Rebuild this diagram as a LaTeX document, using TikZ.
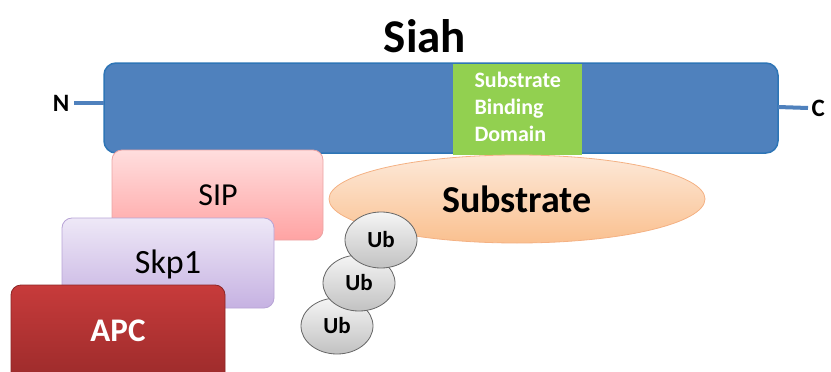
\documentclass[tikz,border=0pt]{standalone}
\usepackage{fontspec}
\setmainfont{Carlito}
\usetikzlibrary{shapes.geometric}
\definecolor{barblue}{HTML}{4F81BD}
\definecolor{barline}{HTML}{2E75B6}
\definecolor{domgreen}{HTML}{92D050}
\definecolor{siptop}{HTML}{FFDEDE}
\definecolor{sipbot}{HTML}{FFA3A3}
\definecolor{sipline}{HTML}{EBA3A3}
\definecolor{skptop}{HTML}{EEE8F7}
\definecolor{skpbot}{HTML}{C6B2E2}
\definecolor{skpline}{HTML}{B8A4D6}
\definecolor{apctop}{HTML}{C73B3B}
\definecolor{apcbot}{HTML}{9A2A2A}
\definecolor{apcline}{HTML}{8C2626}
\definecolor{subtop}{HTML}{FDE9D9}
\definecolor{subbot}{HTML}{FAC08F}
\definecolor{subline}{HTML}{F4B183}
\tikzset{
  block/.style={rounded corners=10pt, line width=0.8pt},
  ubshape/.style={ellipse, draw=black!60, line width=0.8pt, top color=black!4, bottom color=black!24, minimum width=72pt, minimum height=56pt, inner sep=0pt, font=\bfseries\fontsize{23}{23}\selectfont},
  labeltext/.style={font=\fontsize{#1}{#1}\selectfont},
}
\begin{document}
\begin{tikzpicture}[x=1pt,y=-1pt]
\useasboundingbox (0,0) rectangle (831,372);
% title
\node[font=\bfseries\fontsize{47}{47}\selectfont] (title) at (425,36) {Siah};
% protein bar with N and C termini
\draw[block, draw=barline, fill=barblue, line width=1.5pt, rounded corners=12pt] (104,63) rectangle (778,153);
\coordinate (barW) at (104,103);
\coordinate (barE) at (778,107);
\node[font=\bfseries\fontsize{25}{25}\selectfont, anchor=east] (N) at (73,103) {N};
\node[font=\bfseries\fontsize{25}{25}\selectfont, anchor=west] (C) at (808,108) {C};
\draw[barblue, line width=4pt] (N.east) ++(1pt,0) -- (barW);
\draw[barblue, line width=4pt] (barE) -- (C.west);
% substrate binding domain
\fill[domgreen] (453,64) rectangle (582,155);
\node[text=white, font=\bfseries\fontsize{22}{27}\selectfont, align=left, anchor=west] (sbd) at (471,107) {Substrate\\Binding\\Domain};
% substrate
\node[ellipse, draw=subline, line width=0.8pt, top color=subtop, bottom color=subbot, minimum width=376pt, minimum height=88pt, font=\bfseries\fontsize{38}{38}\selectfont] (sub) at (517,199) {Substrate};
% complex partners
\draw[block, draw=sipline, top color=siptop, bottom color=sipbot] (112,150) rectangle (323,240);
\node[labeltext=32] (sip) at (218,195) {SIP};
\draw[block, draw=skpline, top color=skptop, bottom color=skpbot] (62,218) rectangle (274,308);
\node[labeltext=34] (skp) at (168,264) {Skp1};
\draw[block, draw=apcline, top color=apctop, bottom color=apcbot] (11,285) rectangle (225,385);
\node[text=white, font=\bfseries\fontsize{33}{33}\selectfont] (apc) at (118,331) {APC};
% ubiquitin chain
\node[ubshape] (ub3) at (337,326) {Ub};
\node[ubshape] (ub2) at (359,283) {Ub};
\node[ubshape] (ub1) at (381,240) {Ub};
\end{tikzpicture}
\end{document}
